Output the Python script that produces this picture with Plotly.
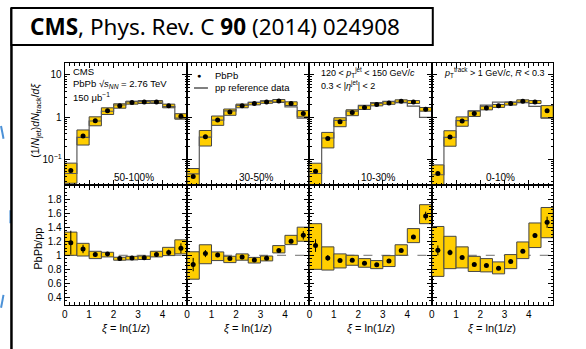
import plotly.graph_objects as go

W, H = 586, 349

# ---------------- data ----------------
xi_edges = [0.0, 0.5, 1.0, 1.5, 2.0, 2.5, 3.0, 3.5, 4.0, 4.5, 5.0]
centrality = ["50-100%", "30-50%", "10-30%", "0-10%"]

# PbPb fragmentation function (top panels)
pbpb_50_100 = [0.054, 0.357, 0.82, 1.41, 1.85, 2.21, 2.29, 2.29, 1.85, 1.05]
pbpb_30_50 = [0.039, 0.344, 0.85, 1.33, 1.85, 2.10, 2.29, 2.42, 2.10, 1.22]
pbpb_10_30 = [0.052, 0.31, 0.78, 1.29, 1.69, 1.99, 2.17, 2.38, 2.29, 1.54]
pbpb_0_10 = [0.046, 0.34, 0.81, 1.22, 1.65, 1.85, 2.10, 2.38, 2.29, 1.41]

# relative systematic uncertainty of PbPb (top panels)
sys_50_100 = [0.50, 0.39, 0.24, 0.18, 0.12, 0.08, 0.08, 0.08, 0.10, 0.15]
sys_30_50 = [0.55, 0.40, 0.25, 0.17, 0.10, 0.07, 0.07, 0.08, 0.10, 0.17]
sys_10_30 = [0.55, 0.40, 0.24, 0.16, 0.10, 0.07, 0.07, 0.08, 0.08, 0.10]
sys_0_10 = [0.60, 0.40, 0.25, 0.15, 0.10, 0.08, 0.08, 0.08, 0.08, 0.33]

# pp reference (top panels)
pp_50_100 = [0.046, 0.33, 0.81, 1.38, 1.94, 2.30, 2.37, 2.27, 1.78, 0.95]
pp_30_50 = [0.045, 0.335, 0.85, 1.40, 1.90, 2.25, 2.40, 2.27, 1.75, 0.95]
pp_10_30 = [0.046, 0.32, 0.84, 1.39, 1.90, 2.21, 2.36, 2.23, 1.82, 0.99]
pp_0_10 = [0.043, 0.33, 0.83, 1.40, 1.93, 2.27, 2.31, 2.25, 1.79, 0.96]

# PbPb/pp ratio (bottom panels)
ratio_50_100 = [1.18, 1.09, 1.01, 1.02, 0.953, 0.96, 0.965, 1.01, 1.04, 1.10]
ratio_30_50 = [0.868, 1.024, 1.005, 0.953, 0.977, 0.934, 0.958, 1.067, 1.199, 1.284]
ratio_10_30 = [1.138, 0.963, 0.925, 0.93, 0.887, 0.864, 0.92, 1.067, 1.26, 1.56]
ratio_0_10 = [1.07, 1.04, 0.97, 0.87, 0.854, 0.816, 0.91, 1.057, 1.28, 1.47]

# statistical errors on the ratio
stat_50_100 = [0.17, 0.06, 0.03, 0.02, 0.015, 0.015, 0.015, 0.02, 0.04, 0.07]
stat_30_50 = [0.095, 0.05, 0.03, 0.02, 0.015, 0.015, 0.015, 0.02, 0.03, 0.06]
stat_10_30 = [0.09, 0.04, 0.02, 0.02, 0.015, 0.015, 0.015, 0.02, 0.03, 0.06]
stat_0_10 = [0.07, 0.04, 0.02, 0.02, 0.015, 0.015, 0.015, 0.02, 0.03, 0.08]

# systematic boxes on the ratio (low, high)
rlo_50_100 = [1.00, 0.99, 0.953, 0.977, 0.93, 0.935, 0.94, 0.977, 0.996, 1.02]
rhi_50_100 = [1.33, 1.17, 1.057, 1.043, 0.972, 0.985, 0.99, 1.057, 1.113, 1.22]
rlo_30_50 = [0.66, 0.88, 0.925, 0.896, 0.93, 0.89, 0.92, 1.034, 1.152, 1.20]
rhi_30_50 = [1.05, 1.15, 1.048, 0.986, 1.02, 0.97, 0.99, 1.138, 1.284, 1.40]
rlo_10_30 = [0.80, 0.79, 0.82, 0.858, 0.83, 0.81, 0.84, 1.00, 1.18, 1.45]
rhi_10_30 = [1.45, 1.12, 1.02, 1.00, 0.953, 0.925, 0.995, 1.15, 1.38, 1.72]
rlo_0_10 = [0.70, 0.81, 0.82, 0.77, 0.764, 0.736, 0.81, 0.953, 1.11, 1.25]
rhi_0_10 = [1.41, 1.27, 1.12, 0.985, 0.953, 0.906, 1.01, 1.19, 1.46, 1.68]

ratio_ticks = [0.4, 0.6, 0.8, 1.0, 1.2, 1.4, 1.6, 1.8]
ratio_ticktext = ["0.4", "0.6", "0.8", "1", "1.2", "1.4", "1.6", "1.8"]
ff_ticks = [0.1, 1, 10]
ff_ticktext = ["10<sup>\u22121</sup>", "1", "10"]
xi_ticks = [0, 1, 2, 3, 4]

panels = [
    (pbpb_50_100, sys_50_100, pp_50_100, ratio_50_100, stat_50_100, rlo_50_100, rhi_50_100),
    (pbpb_30_50, sys_30_50, pp_30_50, ratio_30_50, stat_30_50, rlo_30_50, rhi_30_50),
    (pbpb_10_30, sys_10_30, pp_10_30, ratio_10_30, stat_10_30, rlo_10_30, rhi_10_30),
    (pbpb_0_10, sys_0_10, pp_0_10, ratio_0_10, stat_0_10, rlo_0_10, rhi_0_10),
]

# ---------------- layout helpers ----------------
def px(x):
    return x / W

def py(y):
    return 1 - y / H

XEDGES = [62, 185, 308, 431, 553]
TOP = (63, 185)
BOT = (185, 304.5)

YELLOW = "rgb(255,206,0)"
EDGE = "rgb(70,70,70)"
FONT = "Liberation Sans"

centers = [(xi_edges[i] + xi_edges[i + 1]) / 2 for i in range(len(xi_edges) - 1)]
widths = [xi_edges[i + 1] - xi_edges[i] for i in range(len(xi_edges) - 1)]

fig = go.Figure()
layout = {}

minor_log = [v * m for v in (0.01, 0.1, 1) for m in range(2, 10)]

for i, (pb, sy, pp, rt, st, rlo, rhi) in enumerate(panels):
    t = i + 1
    b = i + 5
    xt, yt = ("x" if t == 1 else f"x{t}"), ("y" if t == 1 else f"y{t}")
    xb, yb = f"x{b}", f"y{b}"

    # top panel: systematic boxes
    lo = [v * (1 - s) for v, s in zip(pb, sy)]
    hi = [v * (1 + s) for v, s in zip(pb, sy)]
    fig.add_trace(go.Bar(x=centers, base=lo, y=[h - l for h, l in zip(hi, lo)], width=widths,
                         marker=dict(color=YELLOW, line=dict(color=EDGE, width=1)),
                         xaxis=xt, yaxis=yt, showlegend=False, hoverinfo="skip"))
    # pp reference step line
    step_x = []
    step_y = []
    for k in range(len(pp)):
        step_x += [xi_edges[k], xi_edges[k + 1]]
        step_y += [pp[k], pp[k]]
    fig.add_trace(go.Scatter(x=step_x, y=step_y, mode="lines",
                             line=dict(color="rgb(90,90,90)", width=1.2),
                             xaxis=xt, yaxis=yt, showlegend=False, hoverinfo="skip"))
    fig.add_trace(go.Scatter(x=centers, y=pb, mode="markers",
                             marker=dict(color="black", size=5),
                             xaxis=xt, yaxis=yt, showlegend=False))

    # bottom panel
    fig.add_trace(go.Bar(x=centers, base=rlo, y=[h - l for h, l in zip(rhi, rlo)], width=widths,
                         marker=dict(color=YELLOW, line=dict(color=EDGE, width=1)),
                         xaxis=xb, yaxis=yb, showlegend=False, hoverinfo="skip"))
    fig.add_trace(go.Scatter(x=centers, y=rt, mode="markers",
                             marker=dict(color="black", size=5),
                             error_y=dict(type="data", array=st, color="black", thickness=1, width=0),
                             xaxis=xb, yaxis=yb, showlegend=False))

    xdom = [px(XEDGES[i]), px(XEDGES[i + 1])]
    common = dict(showline=True, linecolor="black", linewidth=1, mirror="allticks",
                  ticks="inside", tickcolor="black", ticklen=5, zeroline=False,
                  showgrid=False, tickfont=dict(family=FONT, size=10, color="black"))
    layout["xaxis" if t == 1 else f"xaxis{t}"] = dict(
        domain=xdom, anchor=yt, range=[0, 5], tickvals=xi_ticks,
        showticklabels=False, minor=dict(ticks="inside", dtick=0.2, ticklen=2.5, tickcolor="black"),
        **common)
    layout["yaxis" if t == 1 else f"yaxis{t}"] = dict(
        domain=[py(TOP[1]), py(TOP[0])], anchor=xt, type="log", range=[-1.61, 1.284],
        tickvals=ff_ticks, ticktext=ff_ticktext, showticklabels=(i == 0),
        minor=dict(ticks="inside", tickvals=minor_log, ticklen=2.5, tickcolor="black"),
        **common)
    layout[f"xaxis{b}"] = dict(
        domain=xdom, anchor=yb, range=[0, 5], tickvals=xi_ticks,
        showticklabels=True, minor=dict(ticks="inside", dtick=0.2, ticklen=2.5, tickcolor="black"),
        **common)
    layout[f"yaxis{b}"] = dict(
        domain=[py(BOT[1]), py(BOT[0])], anchor=xb, range=[0.3, 2.0],
        tickvals=ratio_ticks, ticktext=ratio_ticktext, showticklabels=(i == 0),
        minor=dict(ticks="inside", dtick=0.05, ticklen=2.5, tickcolor="black"),
        **common)

fig.update_layout(**layout)

shapes = []
# dashed unity line in ratio panels
for i in range(4):
    b = i + 5
    shapes.append(dict(type="line", xref=f"x{b} domain", yref=f"y{b}", x0=0, x1=1, y0=1, y1=1,
                       line=dict(color="rgb(110,110,110)", width=1, dash="dash"), layer="below"))

# slide decorations: blue dashed arc, black frame line and title box
shapes.append(dict(type="path", xref="paper", yref="paper",
                   path=f"M {px(-2)},{py(126)} Q {px(17)},{py(215)} {px(-2)},{py(308)}",
                   line=dict(color="rgb(75,145,215)", width=2, dash="13px,72px")))
shapes.append(dict(type="line", xref="paper", yref="paper", x0=px(8.5), x1=px(8.5), y0=py(8), y1=0,
                   line=dict(color="black", width=2.5)))
shapes.append(dict(type="rect", xref="paper", yref="paper", x0=px(8.5), x1=px(432), y0=py(45), y1=py(8),
                   line=dict(color="black", width=2), fillcolor="white"))

ann = []
def text(x, y, s, size=9.5, xanchor="left", family=FONT, **kw):
    ann.append(dict(xref="paper", yref="paper", x=px(x), y=py(y), text=s, showarrow=False,
                    xanchor=xanchor, yanchor="middle", font=dict(family=family, size=size, color="black"), **kw))

text(25, 27, "<b>CMS</b>, Phys. Rev. C <b>90</b> (2014) 024908", size=22.5, family="Noto Sans")

text(68, 71, "CMS", size=9.5)
text(68, 84, "PbPb \u221A<i>s</i><sub><i>NN</i></sub> = 2.76 TeV", size=9.5)
text(68, 97, "150 \u03BCb<sup>\u22121</sup>", size=9.5)

text(197, 75.5, "\u25CF", size=7, xanchor="center")
text(211, 75.5, "PbPb", size=9.5)
text(211, 88, "pp reference data", size=9.5)

text(318, 72, "120 < <i>p</i><sub>T</sub><sup>jet</sup> < 150 GeV/<i>c</i>", size=9)
text(318, 85, "0.3 < |<i>\u03B7</i><sup>jet</sup>| < 2", size=9)
text(441, 72, "<i>p</i><sub>T</sub><sup>track</sup> > 1 GeV/<i>c</i>, <i>R</i> < 0.3", size=9)

for i, c in enumerate(centrality):
    cx = (XEDGES[i] + XEDGES[i + 1]) / 2 + 8
    text(cx, 177.5, c, size=10, xanchor="center")
    text((XEDGES[i] + XEDGES[i + 1]) / 2, 328, "<i>\u03BE</i> = ln(1/<i>z</i>)", size=11, xanchor="center")

text(33, 120, "(1/<i>N</i><sub>jet</sub>)<i>dN</i><sub>track</sub>/<i>d\u03BE</i>", size=10.5,
     xanchor="center", textangle=-90)
text(35, 249, "PbPb/pp", size=11, xanchor="center", textangle=-90)

shapes.append(dict(type="line", xref="paper", yref="paper", x0=px(192), x1=px(206), y0=py(88), y1=py(88),
                   line=dict(color="black", width=1)))

fig.update_layout(width=W, height=H, margin=dict(l=0, r=0, t=0, b=0),
                  paper_bgcolor="white", plot_bgcolor="white",
                  shapes=shapes, annotations=ann, barmode="overlay", showlegend=False)

fig.write_html("out.html")
